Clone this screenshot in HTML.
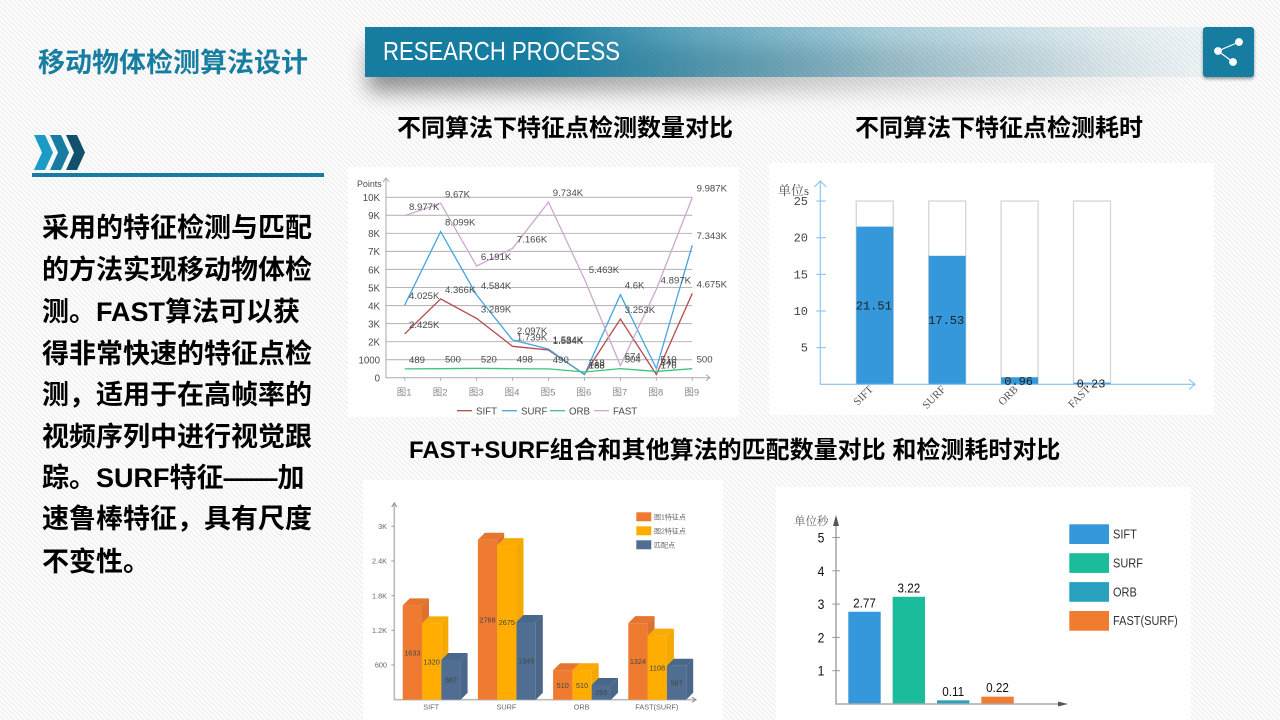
<!DOCTYPE html>
<html lang="zh-CN">
<head>
<meta charset="utf-8">
<title>移动物体检测算法设计</title>
<style>
html,body{margin:0;padding:0;}
body{width:1280px;height:720px;overflow:hidden;position:relative;font-family:"Liberation Sans","Noto Sans CJK SC",sans-serif;
background:repeating-linear-gradient(45deg,#ffffff 0,#ffffff 1.768px,#f1f1f1 1.768px,#f1f1f1 3.536px);}
.abs{position:absolute;white-space:nowrap;}
.panel{position:absolute;background:#fff;}
.head{font-weight:700;font-size:24px;line-height:30px;color:#000;}
.body-line{left:42px;font-weight:700;font-size:27px;line-height:36px;color:#000;}
#chart-layer{position:absolute;left:0;top:0;}
#chart-layer text{font-family:"Liberation Sans","Noto Sans CJK SC",sans-serif;}
</style>
</head>
<body>
<div class="abs" style="left:38px;top:45px;font-size:27px;line-height:36px;font-weight:700;color:#187ea1;">移动物体检测算法设计</div>

<div class="abs" style="left:368px;top:46px;width:835px;height:46px;filter:blur(10px);background:linear-gradient(90deg,rgba(0,0,0,.42) 0,rgba(0,0,0,.3) 30%,rgba(0,0,0,.1) 70%,rgba(0,0,0,0) 100%);"></div>
<div class="abs" style="left:365px;top:27px;width:838px;height:50px;background:linear-gradient(90deg,#177da0 0,#177da0 21%,rgba(23,125,160,.65) 40%,rgba(23,125,160,.35) 62%,rgba(23,125,160,.1) 90%,rgba(23,125,160,.06) 100%);"></div>
<div class="abs" style="left:383px;top:35px;font-size:26px;line-height:32px;color:#fff;transform:scaleX(.85);transform-origin:0 50%;">RESEARCH PROCESS</div>

<div class="abs" style="left:1203px;top:27px;width:51px;height:50px;background:#177da0;border-radius:3px;box-shadow:0 2px 3px rgba(0,0,0,.4);">
  <svg width="51" height="50">
    <path d="M36 15 L15 24 L30 35" fill="none" stroke="#fff" stroke-width="1.2"/>
    <circle cx="36" cy="15" r="3.9" fill="#fff"/>
    <circle cx="15" cy="24" r="3.9" fill="#fff"/>
    <circle cx="30" cy="35" r="3.9" fill="#fff"/>
  </svg>
</div>

<svg class="abs" style="left:34px;top:135px;" width="52" height="36">
  <polygon points="0,0 11,0 19,17.5 11,35 0,35 8,17.5" fill="#1b9cc7"/>
  <polygon points="16,0 27,0 35,17.5 27,35 16,35 24,17.5" fill="#177ca0"/>
  <polygon points="32,0 43,0 51,17.5 43,35 32,35 40,17.5" fill="#11506a"/>
</svg>
<div class="abs" style="left:32px;top:173px;width:292px;height:4px;background:#177da0;"></div>

<div class="abs body-line" style="top:210px;">采用的特征检测与匹配</div>
<div class="abs body-line" style="top:252px;">的方法实现移动物体检</div>
<div class="abs body-line" style="top:294px;">测。FAST算法可以获</div>
<div class="abs body-line" style="top:336px;">得非常快速的特征点检</div>
<div class="abs body-line" style="top:377px;">测，适用于在高帧率的</div>
<div class="abs body-line" style="top:419px;">视频序列中进行视觉跟</div>
<div class="abs body-line" style="top:460px;">踪。SURF特征——加</div>
<div class="abs body-line" style="top:501px;">速鲁棒特征，具有尺度</div>
<div class="abs body-line" style="top:544px;">不变性。</div>

<div class="abs head" style="left:397px;top:114px;">不同算法下特征点检测数量对比</div>
<div class="abs head" style="left:855px;top:114px;">不同算法下特征点检测耗时</div>
<div class="abs head" style="left:409px;top:436px;">FAST+SURF组合和其他算法的匹配数量对比 和检测耗时对比</div>

<div class="panel" style="left:348px;top:167px;width:391px;height:250px;"></div>
<div class="panel" style="left:769px;top:163px;width:445px;height:252px;"></div>
<div class="panel" style="left:363px;top:480px;width:360px;height:240px;"></div>
<div class="panel" style="left:776px;top:487px;width:415px;height:233px;"></div>

<svg id="chart-layer" width="1280" height="720"></svg>

<script>
/* Line chart data */
const lineCategories = ["图1","图2","图3","图4","图5","图6","图7","图8","图9"];
const lineSift = [2425,4366,3289,1739,1534,188,3253,176,4675];
const lineSurf = [4025,8099,4584,2097,1584,168,4600,510,7343];
const lineOrb = [489,500,520,498,490,318,504,346,500];
const lineFast = [8977,9670,6191,7166,9734,5463,674,4897,9987];
const lineTicks = [0,1000,2000,3000,4000,5000,6000,7000,8000,9000,10000];
const lineTickLabels = ["0","1000","2K","3K","4K","5K","6K","7K","8K","9K","10K"];
const lineSeriesNames = ["SIFT","SURF","ORB","FAST"];

/* Single-algorithm time chart data */
const timeCategories = ["SIFT","SURF","ORB","FAST"];
const timeValues = [21.51,17.53,0.96,0.23];
const timeCapacity = [25,25,25,25];
const timeTicks = [5,10,15,20,25];

/* 3D match chart data */
const matchCategories = ["SIFT","SURF","ORB","FAST(SURF)"];
const matchImage1 = [1633,2768,510,1324];
const matchImage2 = [1320,2675,510,1108];
const matchPoints = [687,1345,255,587];
const matchTicks = [600,1200,1800,2400,3000];
const matchTickLabels = ["600","1.2K","1.8K","2.4K","3K"];
const matchSeriesNames = ["图1特征点","图2特征点","匹配点"];

/* Combination time chart data */
const comboCategories = ["SIFT","SURF","ORB","FAST(SURF)"];
const comboValues = [2.77,3.22,0.11,0.22];
const comboTicks = [1,2,3,4,5];

const NS = "http://www.w3.org/2000/svg";
const layer = document.getElementById("chart-layer");
function mk(parent, tag, attrs, txt){
  const e = document.createElementNS(NS, tag);
  for (const k in attrs) e.setAttribute(k, attrs[k]);
  if (txt !== undefined) e.textContent = txt;
  parent.appendChild(e);
  return e;
}
function group(){
  const g = mk(layer, "g", {});
  g.style.filter = "blur(0.3px)";
  return g;
}

/* ---------- line chart ---------- */
(function(){
  const g = group();
  
  
  const x0 = 404.7, dx = 35.95, yBase = 377.7, yK = 180.4 / 10000, axisX = 386;
  const X = i => x0 + i * dx;
  const Y = v => yBase - v * yK;
  const gridEnd = X(lineCategories.length - 1);
  lineTicks.forEach((t, i) => {
    if (t > 0) {
      const gl = mk(g, "line", {x1:axisX, x2:gridEnd, y1:Y(t), y2:Y(t), stroke:"#b8b8b8", "stroke-width":1.1});
      
      
    }
    const tl = mk(g, "text", {x:380, y:Y(t)+3.8, "text-anchor":"end", "font-size":9.7, fill:"#4a4a4a"}, lineTickLabels[i]);
    
    
  });
  const ax = mk(g, "path", {d:`M${axisX} 178 V${yBase} H710 M706 ${yBase-3} L710 ${yBase} L706 ${yBase+3} M${axisX-3} 182 L${axisX} 178 L${axisX+3} 182`, fill:"none", stroke:"#aaa", "stroke-width":1});
  
  
  const yTitle = mk(g, "text", {x:357, y:187, "font-size":8.9, fill:"#4a4a4a"}, "Points");
  
  
  lineCategories.forEach((c, i) => {
    const tk = mk(g, "line", {x1:X(i), x2:X(i), y1:yBase, y2:yBase+3, stroke:"#aaa"});
    
    
    const tl = mk(g, "text", {x:X(i)-0.5, y:395.5, "text-anchor":"middle", "font-size":9.5, fill:"#888"}, c);
    
    
  });
  const fmt = v => v >= 1000 ? (v / 1000) + "K" : String(v);
  const series = [[lineSift,"#b34a4a"],[lineSurf,"#45a5e0"],[lineOrb,"#3cc47c"],[lineFast,"#cda8d0"]];
  series.forEach((s, si) => {
    const pts = s[0].map((v, i) => X(i) + "," + Y(v)).join(" ");
    const pl = mk(g, "polyline", {points:pts, fill:"none", stroke:s[1], "stroke-width":1.3});
    
    
  });
  series.forEach((s, si) => {
    s[0].forEach((v, i) => {
      const vl = mk(g, "text", {x:X(i)+4.3, y:Y(v)-6, "font-size":9.6, fill:"#4a4a4a"}, fmt(v));
      
      
    });
  });
  const legendX = [457,502,550,594];
  lineSeriesNames.forEach((n, i) => {
    const l = mk(g, "line", {x1:legendX[i], x2:legendX[i]+15, y1:410.7, y2:410.7, stroke:series[i][1], "stroke-width":1.3});
    
    
    const t = mk(g, "text", {x:legendX[i]+19, y:414.3, "font-size":9.7, fill:"#4a4a4a"}, n);
    
    
  });
})();

/* ---------- time chart ---------- */
(function(){
  const g = group();
  
  
  const x0 = 856.3, step = 72.4, w = 37, yBase = 384.3, k = 7.33, axisX = 820.3;
  const Y = v => yBase - v * k;
  const serif = '"Liberation Serif","Noto Serif CJK SC",serif';
  timeCategories.forEach((c, i) => {
    const x = x0 + i * step;
    const bg = mk(g, "rect", {x:x, y:Y(timeCapacity[i]), width:w, height:yBase-Y(timeCapacity[i]), fill:"#fff", stroke:"#d6d6d6", "stroke-width":1.3});
    
    
    const b = mk(g, "rect", {x:x, y:Y(timeValues[i]), width:w, height:yBase-Y(timeValues[i]), fill:"#3498db"});
    
    
  });
  const ax = mk(g, "path", {d:`M${axisX} 181 V${yBase} H1195 M1189 ${yBase-5} L1195 ${yBase} L1189 ${yBase+5} M${axisX-6} 187 L${axisX} 181 L${axisX+6} 187`, fill:"none", stroke:"#85c4ee", "stroke-width":1.1});
  
  
  timeTicks.forEach(t => {
    const tk = mk(g, "line", {x1:axisX-4, x2:axisX+5.5, y1:Y(t), y2:Y(t), stroke:"#85c4ee", "stroke-width":1.1});
    
    
    const tl = mk(g, "text", {x:808, y:Y(t)+4, "text-anchor":"end", "font-size":12, fill:"#444"}, String(t));
    tl.style.fontFamily = '"Liberation Mono",monospace';
    
    
  });
  const title = mk(g, "text", {x:778, y:195, "font-size":13, fill:"#555"}, "单位s");
  title.style.fontFamily = serif;
  
  
  timeCategories.forEach((c, i) => {
    const cx = x0 + i * step + w / 2;
    const vl = mk(g, "text", {x:cx-1, y:Y(timeValues[i]/2)+4, "text-anchor":"middle", "font-size":12, fill:"#222"}, timeValues[i].toFixed(2));
    vl.style.fontFamily = '"Liberation Mono",monospace';
    
    
    const tl = mk(g, "text", {transform:`translate(${cx-1} 390) rotate(-45)`, "text-anchor":"end", "font-size":11, fill:"#555"}, c);
    tl.style.fontFamily = serif;
    
    
  });
})();

/* ---------- 3D match chart ---------- */
(function(){
  const g = group();
  
  
  const x0 = 402.7, step = 75.2, w = 19.3, d = 7, yBase = 699.7, k = 173.4 / 3000, axisX = 394.3;
  const Y = v => yBase - v * k;
  const series = [
    [matchImage1,"#ee7b30","#dc7130","#e5752f"],
    [matchImage2,"#ffad00","#f5a800","#f9aa04"],
    [matchPoints,"#4f6e91","#4a6789","#48678a"]
  ];
  const ax = mk(g, "path", {d:`M${axisX} 503 V${yBase} H696`, fill:"none", stroke:"#bbb", "stroke-width":1.6});
  
  
  const ah = mk(g, "path", {d:`M${axisX-2.5} 507 L${axisX} 503 L${axisX+2.5} 507 M692 ${yBase-2.5} L696 ${yBase} L692 ${yBase+2.5}`, fill:"none", stroke:"#888", "stroke-width":1});
  
  
  matchTicks.forEach((t, i) => {
    const tk = mk(g, "line", {x1:axisX-3, x2:axisX, y1:Y(t), y2:Y(t), stroke:"#999"});
    
    
    const tl = mk(g, "text", {x:387, y:Y(t)+2.7, "text-anchor":"end", "font-size":7.3, fill:"#666"}, matchTickLabels[i]);
    
    
  });
  matchCategories.forEach((c, ci) => {
    series.forEach((s, si) => {
      const x = x0 + ci * step + si * w, top = Y(s[0][ci]);
      const front = mk(g, "rect", {x:x, y:top, width:w, height:yBase-top, fill:s[1]});
      
      
      const side = mk(g, "polygon", {points:`${x+w},${top} ${x+w+d},${top-d} ${x+w+d},${yBase-d} ${x+w},${yBase}`, fill:s[2]});
      
      
      const cap = mk(g, "polygon", {points:`${x},${top} ${x+d},${top-d} ${x+w+d},${top-d} ${x+w},${top}`, fill:s[3]});
      
      
    });
  });
  matchCategories.forEach((c, ci) => {
    series.forEach((s, si) => {
      const x = x0 + ci * step + si * w, v = s[0][ci];
      const vl = mk(g, "text", {x:x+w/2, y:Y(v/2)+2.8, "text-anchor":"middle", "font-size":7.3, fill:"#444"}, String(v));
      
      
    });
    const tl = mk(g, "text", {x:x0+ci*step+28.5, y:709.5, "text-anchor":"middle", "font-size":7.3, fill:"#666"}, c);
    
    
  });
  matchSeriesNames.forEach((n, i) => {
    const sw = mk(g, "rect", {x:636.3, y:512.3+i*14, width:15, height:9, fill:series[i][1]});
    
    
    const t = mk(g, "text", {x:654, y:519.5+i*14, "font-size":7, fill:"#666"}, n);
    
    
  });
})();

/* ---------- combo time chart ---------- */
(function(){
  const g = group();
  
  
  const x0 = 848.3, step = 44.35, w = 32.4, yBase = 704, k = 33.3, axisX = 836;
  const Y = v => yBase - v * k;
  const colors = ["#3498db","#1abc9c","#2aa1bf","#ef7c2f"];
  comboCategories.forEach((c, i) => {
    const x = x0 + i * step;
    const b = mk(g, "rect", {x:x, y:Y(comboValues[i]), width:w, height:yBase-Y(comboValues[i]), fill:colors[i]});
    
    
    const vl = mk(g, "text", {transform:`translate(${x+w/2} ${Y(comboValues[i])-4.5}) scale(.9 1)`, "text-anchor":"middle", "font-size":13, fill:"#111"}, comboValues[i].toFixed(2));
    
    
    const sw = mk(g, "rect", {x:1069.3, y:524.3+i*28.9, width:39.7, height:19.7, fill:colors[i]});
    
    
    const t = mk(g, "text", {transform:`translate(1113 ${538.5+i*28.9}) scale(.88 1)`, "font-size":12.5, fill:"#333"}, c);
    
    
  });
  const ax = mk(g, "path", {d:`M${axisX} 520 V${yBase} H1060`, fill:"none", stroke:"#aaa", "stroke-width":1.6});
  
  
  const ah = mk(g, "path", {d:`M836 515 L839 526 L833 526 Z M1068 704 L1058 701.5 L1058 706.5 Z`, fill:"#555"});
  
  
  comboTicks.forEach(t => {
    const tk = mk(g, "line", {x1:832.3, x2:840, y1:Y(t), y2:Y(t), stroke:"#999", "stroke-width":1});
    
    
    const tl = mk(g, "text", {transform:`translate(821 ${Y(t)+5}) scale(.9 1)`, "text-anchor":"middle", "font-size":13.5, fill:"#111"}, String(t));
    
    
  });
  const title = mk(g, "text", {x:794, y:525, "font-size":11.5, fill:"#666"}, "单位秒");
  title.style.fontFamily = '"Noto Serif CJK SC",serif';
  
  
})();
</script>
</body>
</html>
